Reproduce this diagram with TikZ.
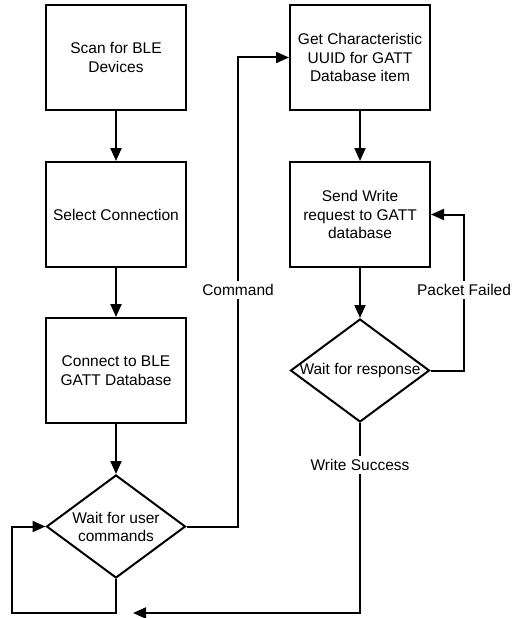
\documentclass[tikz,border=0pt]{standalone}
\usepackage{fontspec}
\setmainfont{Liberation Sans}
\usetikzlibrary{arrows.meta,shapes.geometric}

\tikzset{
  flowbox/.style={draw, line width=2pt, minimum width=140pt, minimum height=105pt,
    inner sep=0pt, align=center, font=\fontsize{15.5}{18.5}\selectfont},
  decision/.style={draw, shape=diamond, line width=2pt, minimum width=139pt,
    minimum height=103pt, inner sep=0pt},
  dtext/.style={align=center, inner sep=0pt, font=\fontsize{15.5}{18.5}\selectfont},
  flow/.style={line width=2pt, -{Triangle[length=13pt,width=11pt]}},
  edgelabel/.style={fill=white, inner sep=3pt, font=\fontsize{15.5}{18.5}\selectfont}
}

\begin{document}
\begin{tikzpicture}[x=1pt,y=-1pt]
\useasboundingbox (0,0) rectangle (512,618);

% left column
\node[flowbox] (scan) at (116,57.5) {Scan for BLE\\Devices};
\node[flowbox] (select) at (116,214.5) {Select Connection};
\node[flowbox] (connect) at (116,370.5) {Connect to BLE\\GATT Database};
\node[decision] (waituser) at (116,526.5) {};
\node[dtext] (waitusertext) at (116,527) {Wait for user\\commands};

% right column
\node[flowbox] (getuuid) at (360,57.5) {Get Characteristic\\UUID for GATT\\Database item};
\node[flowbox] (sendwrite) at (360,214.5) {Send Write\\request to GATT\\database};
\node[decision] (waitresp) at (360,370.5) {};
\node[dtext] (waitresptext) at (360,370) {Wait for response};

% routing points
\coordinate (cmd) at (238,290);
\coordinate (pf) at (464,290);
\coordinate (ws) at (360,465);
\coordinate (ret) at (133,613);
\coordinate (loopbot) at (12,613);

% connectors
\draw[flow] (scan) -- (select);
\draw[flow] (select) -- (connect);
\draw[flow] (connect) -- (waituser);
\draw[flow] (getuuid) -- (sendwrite);
\draw[flow] (sendwrite) -- (waitresp);
\draw[flow] (waituser.east) -- (waituser.east -| cmd) -- (cmd |- getuuid.west) -- (getuuid.west);
\draw[flow] (waitresp.east) -- (waitresp.east -| pf) -- (pf |- sendwrite.east) -- (sendwrite.east);
\draw[flow] (waitresp.south) -- (waitresp.south |- ret) -- (ret);
\draw[flow] (waituser.south) -- (waituser.south |- loopbot) -- (loopbot) -- (loopbot |- waituser.west) -- (waituser.west);

% connector labels
\node[edgelabel] (cmdlabel) at (cmd) {Command};
\node[edgelabel] (pflabel) at (pf) {Packet Failed};
\node[edgelabel] (wslabel) at (ws) {Write Success};
\end{tikzpicture}
\end{document}
